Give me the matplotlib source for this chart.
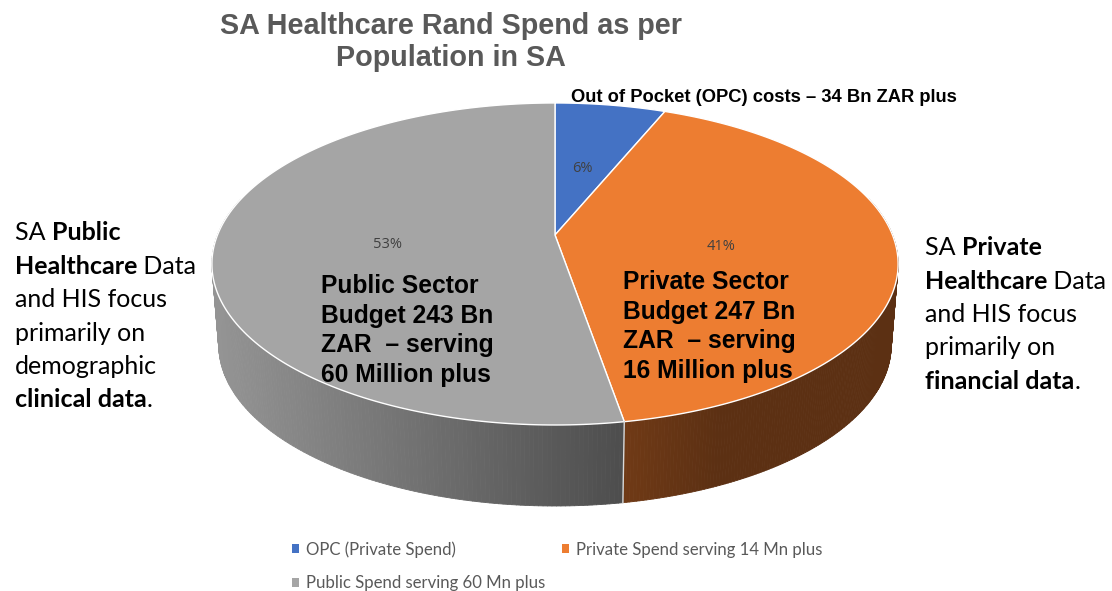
import numpy as np
import matplotlib
matplotlib.use('Agg')
import matplotlib.pyplot as plt
from matplotlib.collections import PolyCollection
from matplotlib.colors import to_rgb
from matplotlib.patches import Patch

# chart data
slices = ['OPC (Private Spend)', 'Private Spend serving 14 Mn plus', 'Public Spend serving 60 Mn plus']
shares = [6.2, 41.1, 52.7]
share_labels = ['6%', '41%', '53%']
colors = ['#4472c4', '#ed7d31', '#a5a5a5']
title_lines = ['SA Healthcare Rand Spend as per', 'Population in SA']
callout = 'Out of Pocket (OPC) costs – 34 Bn ZAR plus'
public_note = ['Public Sector', 'Budget 243 Bn', 'ZAR  – serving', '60 Million plus']
private_note = ['Private Sector', 'Budget 247 Bn', 'ZAR  – serving', '16 Million plus']
left_text = [[('SA ', 0), ('Public', 1)], [('Healthcare', 1), (' Data', 0)], [('and HIS focus', 0)],
             [('primarily on', 0)], [('demographic', 0)], [('clinical data', 1), ('.', 0)]]
right_text = [[('SA ', 0), ('Private', 1)], [('Healthcare', 1), (' Data', 0)], [('and HIS focus', 0)],
              [('primarily on', 0)], [('financial data', 1), ('.', 0)]]

W, H = 1112, 591
fig = plt.figure(figsize=(W / 100, H / 100), dpi=100)
ax = fig.add_axes([0, 0, 1, 1])
ax.set_xlim(0, W)
ax.set_ylim(H, 0)
ax.axis('off')

# the tilted pie is the unit circle seen in perspective
cx, cy = 555, 235
k, a, b = 0.18, 155.8, 337.5
depth = 81


def project(theta):
    # theta is clockwise from 12 o'clock, in radians
    u, v = np.sin(theta), np.cos(theta)
    d = 1 + k * v
    return cx + b * u / d, cy - a * v / d


edges = 2 * np.pi * np.cumsum([0] + shares) / sum(shares)

# side wall, as thin strips so it can carry a gradient
wall_shades = [None,
               ([625, 720], ['#703a16', '#5c3013']),
               ([215, 622], ['#949494', '#4e4e4e'])]
for i, shade in enumerate(wall_shades):
    if shade is None:
        continue
    th = np.linspace(edges[i], edges[i + 1], 300)
    th = th[np.cos(th) < 0.25]
    x, y = project(th)
    xb = cx + (x - cx) * 0.98
    yb = y + depth
    c0, c1 = np.array(to_rgb(shade[1][0])), np.array(to_rgb(shade[1][1]))
    polys, cols = [], []
    for j in range(len(th) - 1):
        polys.append([(x[j], y[j]), (x[j + 1], y[j + 1]), (xb[j + 1], yb[j + 1]), (xb[j], yb[j])])
        f = np.interp(x[j], shade[0], [0, 1])
        cols.append(c0 + (c1 - c0) * f)
    ax.add_collection(PolyCollection(polys, facecolors=cols, edgecolors=cols, linewidths=0.6))

# seam on the wall at the front slice boundary
x2, y2 = project(edges[2])
ax.plot([x2, cx + (x2 - cx) * 0.98], [y2, y2 + depth], color='#d9d9d9', lw=1)

# top face
for i, c in enumerate(colors):
    th = np.linspace(edges[i], edges[i + 1], 200)
    x, y = project(th)
    ax.fill(np.r_[cx, x], np.r_[cy, y], facecolor=c, edgecolor='white', lw=1, joinstyle='round')

# percent labels
pct_pos = [(582, 169), (721, 247), (388, 245)]
for (px, py), s in zip(pct_pos, share_labels):
    ax.text(px, py, s, ha='center', va='center', fontsize=10.5, family='Open Sans', color='#404040')

# title and notes
for yy, s in zip([26, 58], title_lines):
    ax.text(451, yy, s, ha='center', va='center', fontsize=20.7, family='Liberation Sans',
            fontweight='bold', color='#595959')
ax.text(571, 98, callout, ha='left', va='center', fontsize=13.2, family='Liberation Sans',
        fontweight='bold', color='black')
for yy, s in zip([286, 316, 345, 375], public_note):
    ax.text(321, yy, s, ha='left', va='center', fontsize=17.7, family='Liberation Sans',
            fontweight='bold', color='black')
for yy, s in zip([282, 312, 341, 371], private_note):
    ax.text(623, yy, s, ha='left', va='center', fontsize=17.7, family='Liberation Sans',
            fontweight='bold', color='black')

# side notes with mixed weights
renderer = fig.canvas.get_renderer()


def draw_runs(x0, ys, lines):
    for yy, runs in zip(ys, lines):
        xx = x0
        for s, bold in runs:
            t = ax.text(xx, yy, s.replace(' ', '\u00a0'), ha='left', va='baseline', fontsize=18, family='Lato',
                        fontweight='bold' if bold else 'normal', color='black')
            xx += t.get_window_extent(renderer).width


draw_runs(15, [240, 274, 307, 341, 374, 407], left_text)
draw_runs(925, [255, 289, 322, 355, 389], right_text)

# legend, columns fill top to bottom
order = [0, 2, 1]
handles = [Patch(facecolor=colors[i], edgecolor='none') for i in order]
labels = [slices[i] for i in order]
ax.legend(handles, labels, ncol=2, loc='upper left', bbox_to_anchor=(292 / W, 1 - 541 / H), frameon=False,
          prop={'family': 'Lato', 'size': 12.1}, labelcolor='#595959', handlelength=0.42, handleheight=0.42,
          handletextpad=0.4, columnspacing=1.0, labelspacing=1.05, borderpad=0, borderaxespad=0)

fig.savefig('out.png', dpi=100, facecolor='white')
